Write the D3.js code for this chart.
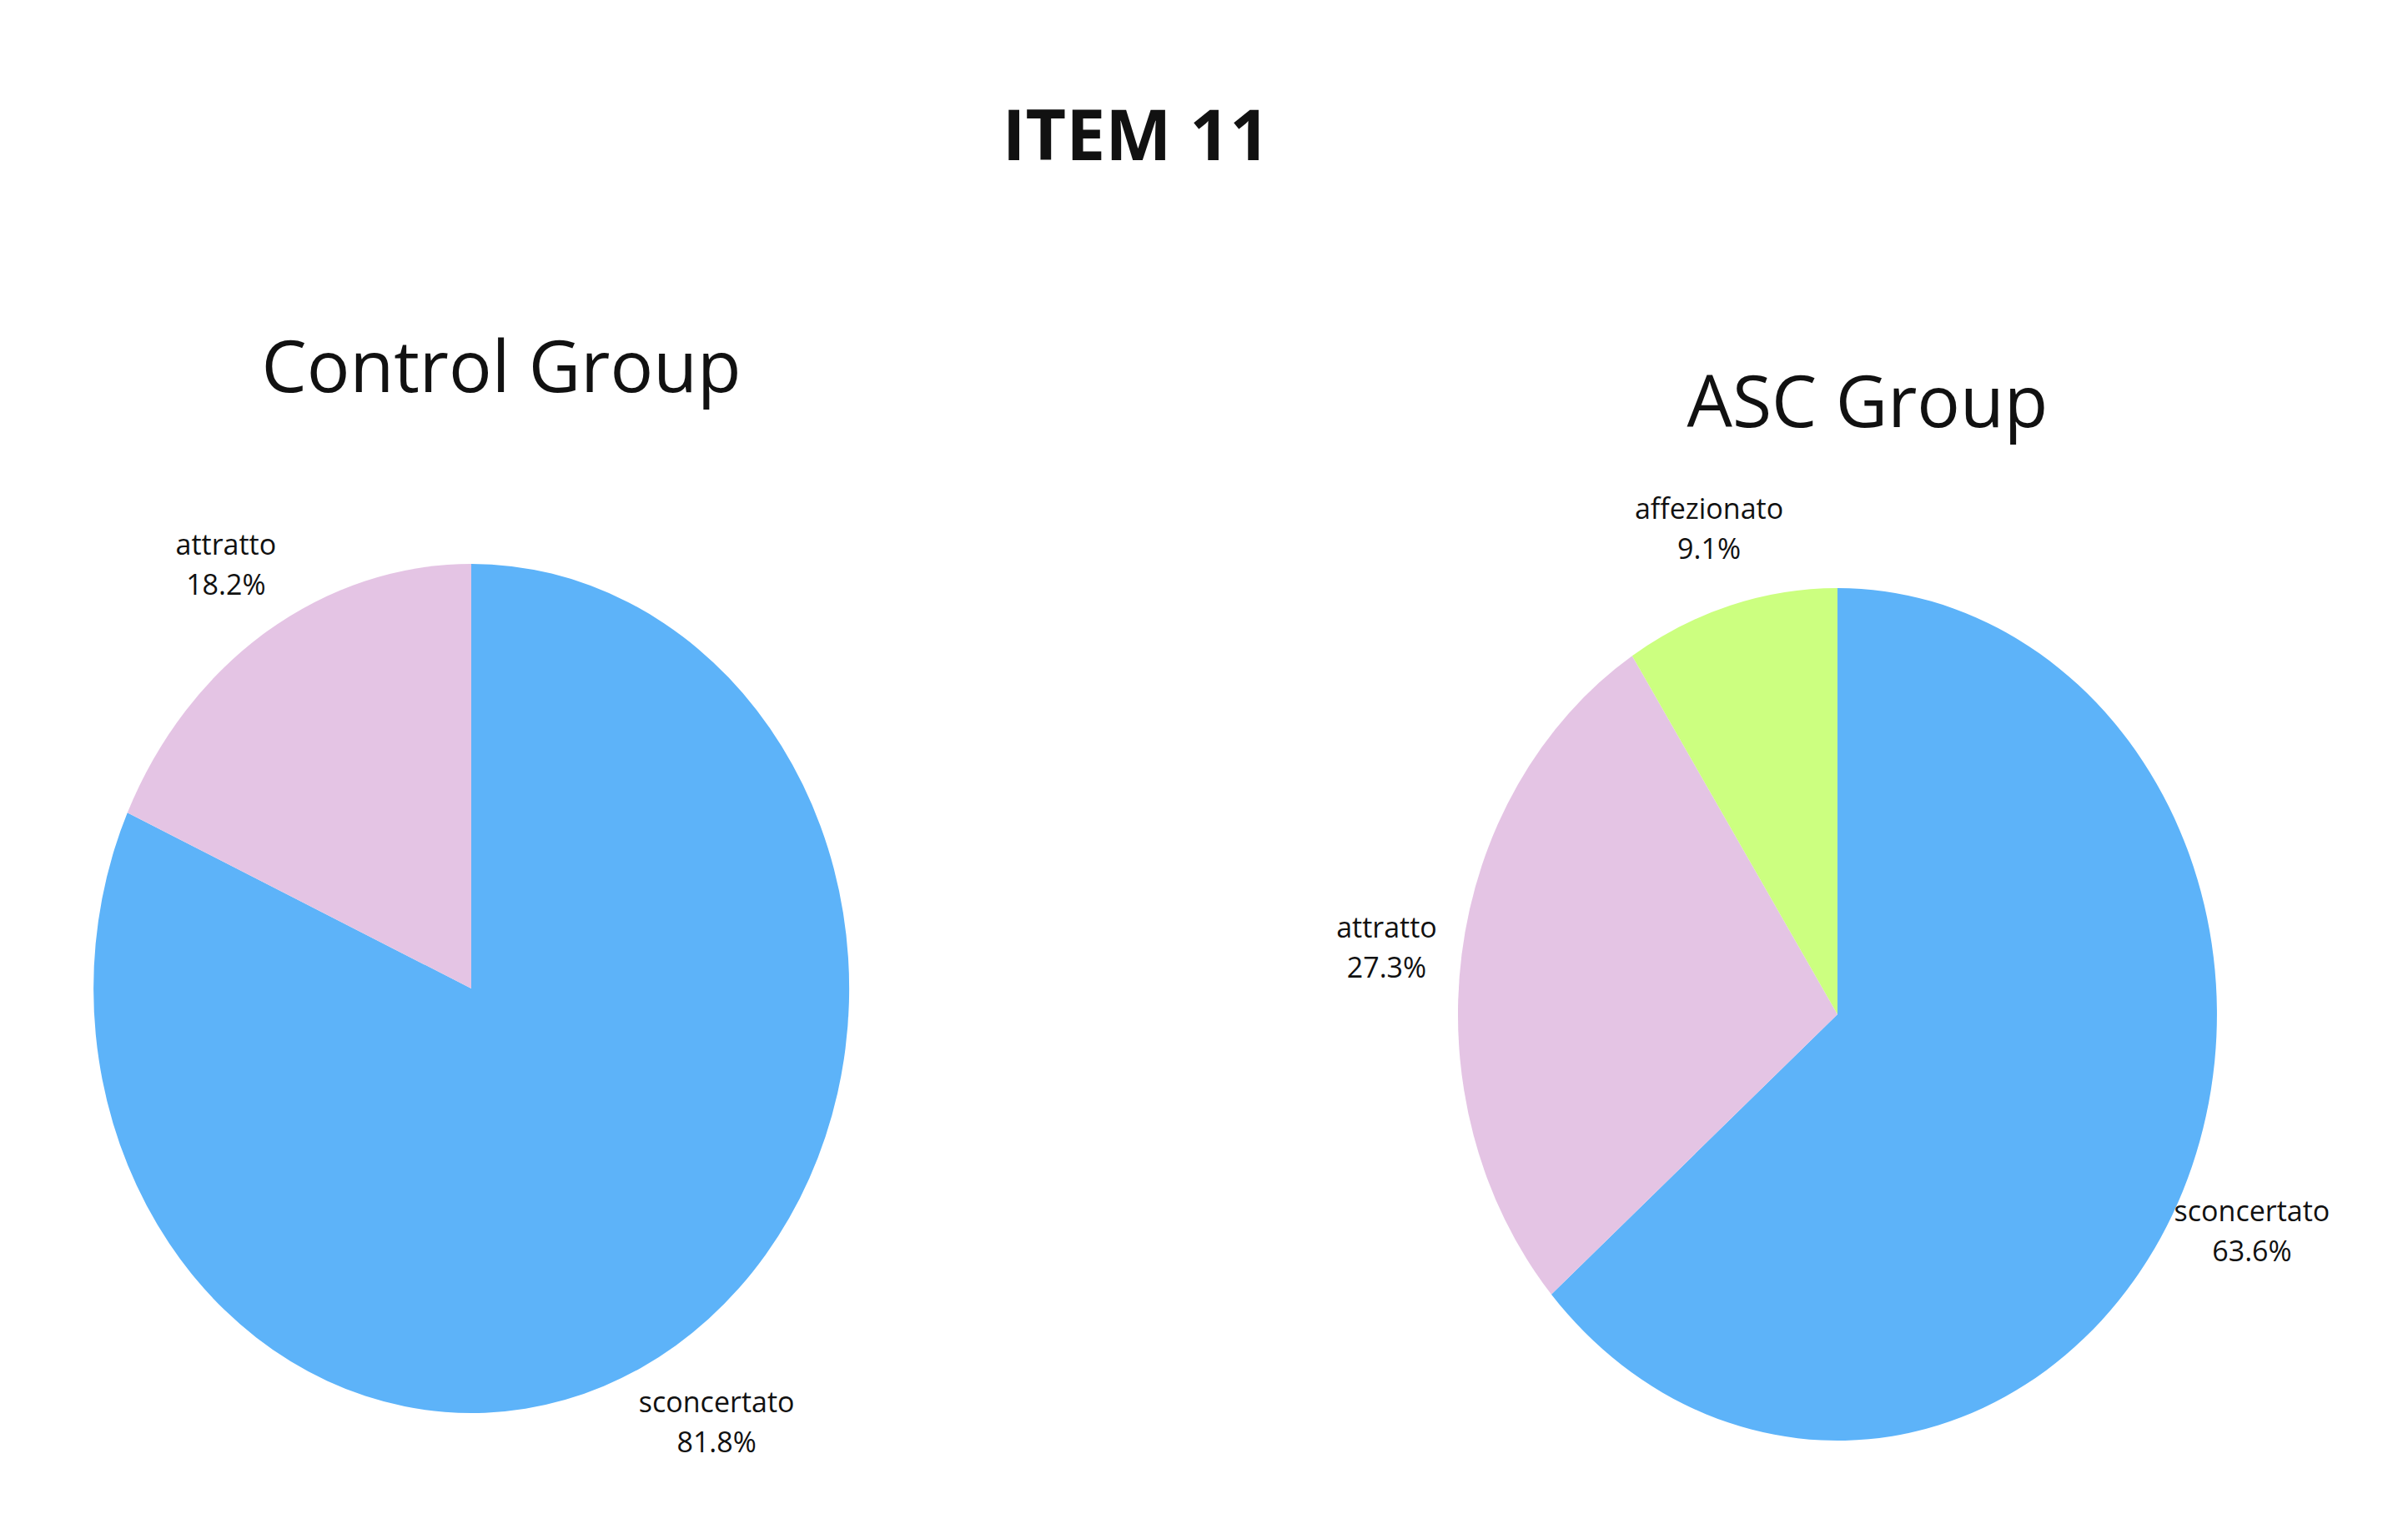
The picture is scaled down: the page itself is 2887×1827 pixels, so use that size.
<!DOCTYPE html>
<html><head><meta charset="utf-8">
<script src="https://cdn.jsdelivr.net/npm/d3@7"></script>
<style>body{margin:0;background:#fff}text{font-family:"Open Sans",sans-serif;fill:#111}</style>
</head><body><svg width="2887" height="1827"></svg>
<script>
const categories = ["sconcertato", "attratto", "affezionato"];
const controlValues = [81.8, 18.2, 0];
const ascValues = [63.6, 27.3, 9.1];
const colors = ["#5db3f9", "#e4c4e4", "#ccff80"];

const svg = d3.select("svg");
svg.append("text").attr("x", 1362).attr("y", 192).attr("text-anchor", "middle")
  .attr("font-size", 84).attr("font-weight", "bold").text("ITEM 11");

const pie = d3.pie().sort(null);
const arc = d3.arc().innerRadius(0).outerRadius(1);

function drawPie(title, values, cx, cy, rx, ry, ty) {
  svg.append("text").attr("x", cx + 36).attr("y", ty).attr("text-anchor", "middle")
    .attr("font-size", 86).text(title);
  const g = svg.append("g").attr("transform", `translate(${cx},${cy})`);
  const arcs = pie(values).map((d, i) => ({...d, i})).filter(d => d.value > 0);
  g.selectAll("path").data(arcs).enter().append("path")
    .attr("transform", `scale(${rx},${ry})`)
    .attr("d", arc).attr("fill", d => colors[d.i]);
  const lab = g.selectAll(".lab").data(arcs).enter().append("text")
    .attr("text-anchor", "middle").attr("font-size", 34)
    .attr("transform", d => {
      const a = (d.startAngle + d.endAngle) / 2;
      return `translate(${Math.sin(a) * rx * 1.2},${-Math.cos(a) * ry * 1.2})`;
    });
  lab.append("tspan").attr("x", 0).attr("dy", -6).text(d => categories[d.i]);
  lab.append("tspan").attr("x", 0).attr("dy", 48).text(d => d.value.toFixed(1) + "%");
}

drawPie("Control Group", controlValues, 565, 1185, 453, 509, 470);
drawPie("ASC Group", ascValues, 2203, 1216, 455, 511, 512);
</script></body></html>
